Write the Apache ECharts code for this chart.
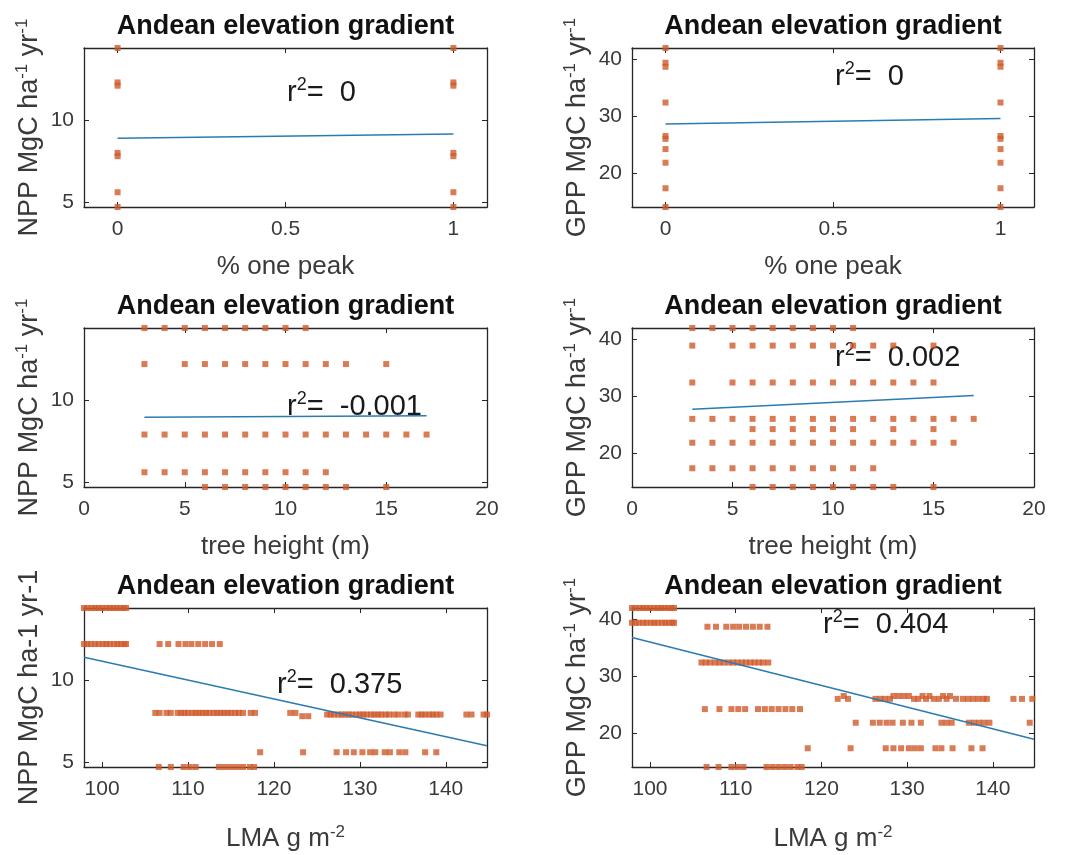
<!DOCTYPE html>
<html>
<head>
<meta charset="utf-8">
<script src="https://cdn.jsdelivr.net/npm/echarts@6/dist/echarts.min.js"></script>
<style>
html, body { margin: 0; padding: 0; background: #fff; }
#chart { width: 1072px; height: 855px; }
</style>
</head>
<body>
<div id="chart"></div>
<script>
// ---- data ----
var onePeakNpp0 = [14.4, 12.3, 12.1, 8.0, 7.8, 5.6, 4.7];
var onePeakNpp1 = [14.4, 12.3, 12.1, 8.0, 7.8, 5.6, 4.7];
var onePeakGpp0 = [42.0, 39.4, 38.7, 32.4, 26.5, 26.0, 24.2, 21.8, 17.3, 14.0];
var onePeakGpp1 = [42.0, 39.4, 38.7, 32.4, 26.5, 26.0, 24.2, 21.8, 17.3, 14.0];

var nppLevels = [14.4, 12.2, 7.9, 5.6, 4.7];
var heightByNpp = [
    [3, 4, 5, 6, 7, 8, 9, 10, 11],
    [3, 5, 6, 7, 8, 9, 10, 11, 12, 13, 15],
    [3, 4, 5, 6, 7, 8, 9, 10, 11, 12, 13, 14, 15, 16, 17],
    [3, 4, 5, 6, 7, 8, 9, 10, 11, 12],
    [6, 7, 8, 9, 10, 11, 12, 13, 15]
];
var gppLevels = [42.0, 38.9, 32.4, 26.0, 24.2, 21.8, 17.3, 14.0];
var heightByGpp = [
    [3, 4, 5, 6, 7, 8, 9, 10, 11],
    [3, 5, 6, 7, 8, 9, 10, 11, 12, 13, 15],
    [3, 5, 6, 7, 8, 9, 10, 11, 12, 13, 14, 15],
    [3, 4, 5, 6, 7, 8, 9, 10, 11, 12, 13, 14, 15, 16, 17],
    [6, 7, 8, 9, 10, 11, 13, 15],
    [3, 4, 5, 6, 7, 8, 9, 10, 11, 12, 13, 14, 15, 16],
    [3, 4, 5, 6, 7, 8, 9, 10, 11, 12],
    [6, 7, 8, 9, 10, 11, 12, 13, 15]
];

var nppLmaLevels = [14.4, 12.2, 8.0, 7.9, 7.8, 5.6, 4.7];
var lmaByNpp = [
    [97.9, 98.3, 98.8, 99.2, 99.6, 100.0, 100.5, 100.9, 101.3, 101.7, 102.1, 102.5, 102.8],
    [97.9, 98.3, 98.7, 99.2, 99.6, 100.1, 100.5, 100.9, 101.4, 101.8, 102.2, 102.6, 102.8,
     106.7, 107.7, 108.9, 109.7, 110.4, 111.2, 112.0, 112.8, 113.7],
    [106.2, 106.7, 107.5, 108.0, 108.8, 109.2, 109.6, 110.0, 110.5, 110.9, 111.3, 111.7, 112.1,
     112.5, 113.0, 113.4, 113.8, 114.2, 114.6, 115.0, 115.5, 115.9, 116.4, 117.3, 117.8,
     121.9, 122.5],
    [126.2, 126.6, 127.0, 127.5, 127.9, 128.3, 128.7, 129.1, 129.6, 130.0, 130.4, 130.8, 131.3,
     131.7, 132.1, 132.5, 133.0, 133.4, 134.0, 134.5, 135.2, 135.6, 136.8, 137.2, 137.6,
     138.1, 138.5, 138.9, 139.4, 142.4, 143.0, 144.4, 144.8],
    [123.3, 124.0],
    [118.4, 123.4, 127.3, 128.4, 129.3, 130.3, 131.2, 131.8, 132.9, 133.5, 134.6, 135.3, 137.6, 138.9],
    [106.6, 108.0, 109.5, 110.2, 110.9, 113.6, 114.3, 115.0, 115.7, 116.4, 117.2, 117.7]
];

var gppLmaLevels = [42.0, 39.4, 38.7, 32.4, 26.5, 26.0, 24.2, 21.8, 17.3, 14.0];
var lmaByGpp = [
    [97.9, 98.3, 98.8, 99.2, 99.6, 100.0, 100.5, 100.9, 101.3, 101.7, 102.1, 102.5, 102.8],
    [97.9, 98.3, 98.7, 99.2, 99.6, 100.1, 100.5, 100.9, 101.4, 101.8, 102.2, 102.6, 102.8],
    [106.7, 107.7, 108.9, 109.7, 110.4, 111.2, 112.0, 112.8, 113.7],
    [106.0, 106.5, 107.0, 107.6, 108.1, 108.6, 109.2, 109.7, 110.2, 110.7, 111.2, 111.7,
     112.2, 112.7, 113.2, 113.8],
    [122.6, 128.4, 129.0, 129.6, 130.2, 131.8, 132.6, 134.2, 135.0],
    [121.9, 123.1, 126.3, 126.9, 127.4, 128.0, 130.8, 131.3, 132.2, 133.1, 133.7, 134.6,
     135.7, 136.5, 137.1, 137.7, 138.3, 138.9, 139.3, 142.4, 143.4, 144.6],
    [106.4, 108.1, 109.5, 110.3, 111.1, 112.6, 113.4, 114.2, 115.0, 115.8, 116.6, 117.5],
    [124.0, 126.0, 126.8, 127.6, 128.3, 129.5, 130.5, 131.6, 134.0, 134.6, 135.2, 137.2,
     137.8, 138.4, 139.0, 139.6, 144.3],
    [118.4, 123.4, 127.5, 128.4, 129.3, 130.2, 130.9, 131.6, 133.3, 134.0, 135.3, 137.5, 138.8],
    [106.6, 108.0, 109.5, 110.2, 110.9, 113.6, 114.3, 115.0, 115.7, 116.4, 117.2, 117.7]
];

// fitted lines (end points)
var fitOnePeakNpp = [[0, 8.9], [1, 9.15]];
var fitOnePeakGpp = [[0, 28.6], [1, 29.6]];
var fitHeightNpp = [[3, 8.95], [17, 9.05]];
var fitHeightGpp = [[3, 27.7], [17, 30.1]];
var fitLmaNpp = [[97.9, 11.4], [144.8, 6.0]];
var fitLmaGpp = [[97.9, 36.8], [144.8, 18.9]];

var r2Values = ['0', '0', '-0.001', '0.002', '0.375', '0.404'];

// tick labels
var onePeakTicks = [0, 0.5, 1];
var heightTicks = [0, 5, 10, 15, 20];
var lmaTicks = [100, 110, 120, 130, 140];
var nppTicks = [5, 10];
var gppTicks = [20, 30, 40];

// ---- helpers ----
function colPairs(x, ys) {
    return ys.map(function (y) { return [x, y]; });
}
function rowPairs(levels, rows) {
    var out = [];
    levels.forEach(function (y, i) {
        rows[i].forEach(function (x) { out.push([x, y]); });
    });
    return out;
}

var font = 'Liberation Sans, Arial, Helvetica, sans-serif';
var axisColor = '#262626';
var labelColor = '#3a3a3a';
var dotColor = '#d05a2a';
var lineColor = '#2c7bb0';

var nppName = 'NPP MgC ha{s|-1} yr{s|-1}';
var gppName = 'GPP MgC ha{s|-1} yr{s|-1}';

var panels = [
    { left: 84, top: 48, w: 403, xr: [-0.1, 1.1], xt: onePeakTicks, xn: '% one peak', xg: 45,
      yr: [4.7, 14.4], yt: nppTicks, yn: nppName,
      pts: colPairs(0, onePeakNpp0).concat(colPairs(1, onePeakNpp1)), fit: fitOnePeakNpp, r2: [287, 93] },
    { left: 632, top: 48, w: 402, xr: [-0.1, 1.1], xt: onePeakTicks, xn: '% one peak', xg: 45,
      yr: [14, 42], yt: gppTicks, yn: gppName,
      pts: colPairs(0, onePeakGpp0).concat(colPairs(1, onePeakGpp1)), fit: fitOnePeakGpp, r2: [835, 77] },
    { left: 84, top: 328, w: 403, xr: [0, 20], xt: heightTicks, xn: 'tree height (m)', xg: 45,
      yr: [4.7, 14.4], yt: nppTicks, yn: nppName,
      pts: rowPairs(nppLevels, heightByNpp), fit: fitHeightNpp, r2: [287, 407] },
    { left: 632, top: 328, w: 402, xr: [0, 20], xt: heightTicks, xn: 'tree height (m)', xg: 45,
      yr: [14, 42], yt: gppTicks, yn: gppName,
      pts: rowPairs(gppLevels, heightByGpp), fit: fitHeightGpp, r2: [835, 358] },
    { left: 84, top: 608, w: 403, xr: [97.9, 144.8], xt: lmaTicks, xn: 'LMA g m{s|-2}', xg: 57,
      yr: [4.7, 14.4], yt: nppTicks, yn: 'NPP MgC ha-1 yr-1',
      pts: rowPairs(nppLmaLevels, lmaByNpp), fit: fitLmaNpp, r2: [277, 685] },
    { left: 632, top: 608, w: 402, xr: [97.9, 144.8], xt: lmaTicks, xn: 'LMA g m{s|-2}', xg: 57,
      yr: [14, 42], yt: gppTicks, yn: gppName,
      pts: rowPairs(gppLmaLevels, lmaByGpp), fit: fitLmaGpp, r2: [823, 625] }
];

var supRich = { s: { fontSize: 17, fontFamily: font, color: labelColor, verticalAlign: 'top', lineHeight: 15 } };

var grids = [], xAxes = [], yAxes = [], series = [], graphics = [];

panels.forEach(function (p, i) {
    grids.push({ left: p.left, top: p.top, width: p.w, height: 159, containLabel: false });

    var baseX = {
        gridIndex: i, type: 'value', min: p.xr[0], max: p.xr[1],
        axisLine: { show: true, onZero: false, lineStyle: { color: axisColor, width: 1.3 } },
        axisTick: { show: true, inside: true, length: 5, customValues: p.xt, lineStyle: { color: axisColor } },
        splitLine: { show: false }
    };
    xAxes.push(Object.assign({}, baseX, {
        position: 'bottom',
        axisLabel: { show: true, customValues: p.xt, margin: 12, fontSize: 21, color: labelColor, fontFamily: font },
        name: p.xn, nameLocation: 'middle', nameGap: p.xg,
        nameTextStyle: { fontSize: 26, color: labelColor, fontFamily: font, lineHeight: 30, rich: supRich }
    }));
    xAxes.push(Object.assign({}, baseX, { position: 'top', axisLabel: { show: false } }));

    var baseY = {
        gridIndex: i, type: 'value', min: p.yr[0], max: p.yr[1],
        axisLine: { show: true, onZero: false, lineStyle: { color: axisColor, width: 1.3 } },
        axisTick: { show: true, inside: true, length: 5, customValues: p.yt, lineStyle: { color: axisColor } },
        splitLine: { show: false }
    };
    yAxes.push(Object.assign({}, baseY, {
        position: 'left',
        axisLabel: { show: true, customValues: p.yt, margin: 10, fontSize: 21, color: labelColor, fontFamily: font },
        name: p.yn, nameLocation: 'middle', nameGap: 39,
        nameTextStyle: { fontSize: 27, color: labelColor, fontFamily: font, lineHeight: 31, rich: supRich }
    }));
    yAxes.push(Object.assign({}, baseY, { position: 'right', axisLabel: { show: false } }));

    series.push({
        type: 'scatter', xAxisIndex: 2 * i, yAxisIndex: 2 * i, data: p.pts,
        symbol: 'rect', symbolSize: 6, clip: false,
        itemStyle: { color: dotColor }, silent: true, z: 2
    });
    series.push({
        type: 'line', xAxisIndex: 2 * i, yAxisIndex: 2 * i, data: p.fit,
        showSymbol: false, symbol: 'none', lineStyle: { color: lineColor, width: 1.5 }, silent: true, z: 3
    });

    graphics.push({
        type: 'text', x: p.left + p.w / 2, y: p.top - 21,
        style: { text: 'Andean elevation gradient', fontSize: 27, fontWeight: 'bold', fontFamily: font,
                 fill: '#111', align: 'center', verticalAlign: 'middle' }
    });
    graphics.push({
        type: 'text', x: p.r2[0], y: p.r2[1],
        style: { text: 'r{s|2}=  ' + r2Values[i], fontSize: 29, fontFamily: font, fill: '#1a1a1a',
                 lineHeight: 34, align: 'left', verticalAlign: 'middle',
                 rich: { s: { fontSize: 18, fontFamily: font, fill: '#1a1a1a', verticalAlign: 'top', lineHeight: 17 } } }
    });
});

var chart = echarts.init(document.getElementById('chart'));
var option = {
    backgroundColor: '#fff',
    animation: false,
    grid: grids,
    xAxis: xAxes,
    yAxis: yAxes,
    series: series,
    graphic: graphics
};
chart.setOption(option);
</script>
</body>
</html>
